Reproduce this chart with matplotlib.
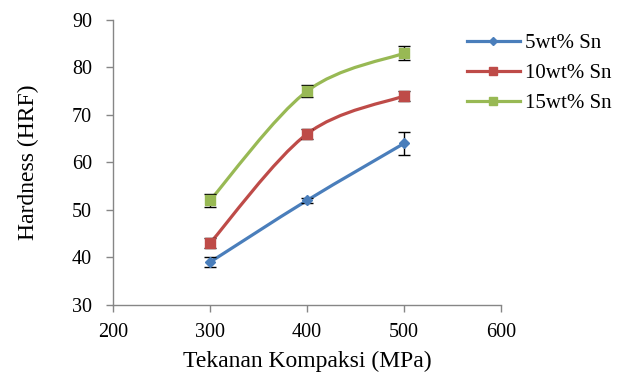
import matplotlib
matplotlib.use("Agg")
import matplotlib.pyplot as plt
import numpy as np
from matplotlib.path import Path
from matplotlib.patches import PathPatch
from matplotlib.lines import Line2D

plt.rcParams['font.family'] = ['Liberation Serif', 'DejaVu Serif']

pressure = [300, 400, 500]
series_names = ["5wt% Sn", "10wt% Sn", "15wt% Sn"]
hardness_5 = [39, 52, 64]
hardness_10 = [43, 66, 74]
hardness_15 = [52, 75, 83]
err_5 = [1.0, 0.6, 2.5]
err_10 = [1.0, 1.0, 1.0]
err_15 = [1.4, 1.2, 1.5]

colors = ["#4a7ebb", "#be4b48", "#98b954"]
markers = ["D", "s", "s"]
msizes = [5, 7, 7]

fig = plt.figure(figsize=(6.24, 3.76), dpi=100)
ax = fig.add_axes([0.181, 0.189, 0.622, 0.758])
ax.set_xlim(200, 600)
ax.set_ylim(30, 90)


def smooth_path(xs, ys):
    # cubic Bezier segments with Catmull-Rom style control points
    pts = np.column_stack([xs, ys]).astype(float)
    n = len(pts)
    verts = [pts[0]]
    codes = [Path.MOVETO]
    for i in range(n - 1):
        p0 = pts[max(i - 1, 0)]
        p1 = pts[i]
        p2 = pts[i + 1]
        p3 = pts[min(i + 2, n - 1)]
        c1 = p1 + (p2 - p0) / 6.0
        c2 = p2 - (p3 - p1) / 6.0
        verts += [c1, c2, p2]
        codes += [Path.CURVE4] * 3
    return Path(verts, codes)


all_vals = [hardness_5, hardness_10, hardness_15]
all_errs = [err_5, err_10, err_15]
handles = []
for vals, errs, c, m, ms, name in zip(all_vals, all_errs, colors, markers, msizes, series_names):
    # smooth curve drawn in display space so curvature follows the screen geometry
    disp = ax.transData.transform(np.column_stack([pressure, vals]))
    path = smooth_path(disp[:, 0], disp[:, 1])
    patch = PathPatch(path, facecolor="none", edgecolor=c, lw=2.3,
                      transform=None, zorder=2, capstyle="round")
    ax.add_artist(patch)
    ax.errorbar(pressure, vals, yerr=errs, fmt="none", ecolor="black",
                elinewidth=1.0, capsize=4.3, capthick=1.0, zorder=3)
    ax.plot(pressure, vals, linestyle="none", marker=m, markersize=ms,
            color=c, zorder=4)
    handles.append(Line2D([0], [0], color=c, lw=2.3, marker=m,
                          markersize=ms - 1, label=name))

for side in ["top", "right"]:
    ax.spines[side].set_visible(False)
for side in ["left", "bottom"]:
    ax.spines[side].set_color("#868686")
    ax.spines[side].set_linewidth(1.0)

ax.set_xticks([200, 300, 400, 500, 600])
ax.set_yticks([30, 40, 50, 60, 70, 80, 90])
ax.tick_params(axis="both", direction="out", length=5, width=1.0,
               color="#868686", labelsize=14.5)
ax.tick_params(axis="x", pad=8)
ax.tick_params(axis="y", pad=10)

ax.set_xlabel("Tekanan Kompaksi (MPa)", fontsize=17, labelpad=6)
ax.set_ylabel("Hardness (HRF)", fontsize=17, labelpad=24)

fig.legend(handles=handles, loc="upper left", bbox_to_anchor=(0.748, 0.91),
           frameon=False, fontsize=15, handlelength=2.55, handletextpad=0.25,
           labelspacing=0.5, borderpad=0, borderaxespad=0)

fig.savefig("out.png", dpi=100)
